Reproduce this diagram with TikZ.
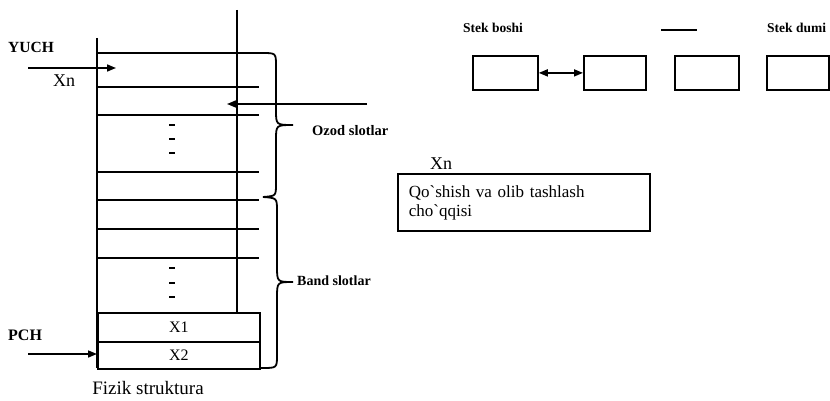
\documentclass[tikz,border=0pt]{standalone}
\usepackage{fontspec}
\setmainfont{Liberation Serif}[Ligatures=TeXOff]
\usetikzlibrary{arrows.meta}
\tikzset{
  ln/.style={line width=1.8pt},
  arr/.style={line width=1.6pt,-{Triangle[length=9pt,width=7pt]}},
  darr/.style={line width=1.6pt,{Triangle[length=9pt,width=7pt]}-{Triangle[length=9pt,width=7pt]}},
  sbox/.style={draw,line width=1.8pt,minimum width=65pt,minimum height=34pt,inner sep=0pt},
  lbl/.style={inner sep=0pt},
}
\begin{document}
\begin{tikzpicture}[x=1pt,y=-1pt]
\useasboundingbox (0,0) rectangle (830,401);
% vertical lines
\coordinate (L1) at (97,38); \coordinate (L2) at (97,368);
\coordinate (R1) at (237,10); \coordinate (R2) at (237,312);
\draw[ln] (L1) -- (L2);
\draw[ln] (R1) -- (R2);
% horizontal slot lines
\foreach \yy in {87,115,172,200,229,258} {\draw[ln] (97,\yy) -- (259,\yy);}
% X1, X2 boxes
\node[draw,line width=1.8pt,minimum width=162pt,minimum height=29pt,anchor=north west,inner sep=0pt,font=\fontsize{16}{16}\selectfont] (x1) at (97,312) {X1};
\node[draw,line width=1.8pt,minimum width=162pt,minimum height=27pt,anchor=north west,inner sep=0pt,font=\fontsize{16}{16}\selectfont] (x2) at (97,341) {X2};
% braces
\draw[ln] (97,53) -- (262,53) .. controls (276,53) .. (276,66) -- (276,110)
  .. controls (276,125) .. (293,125) .. controls (276,125) .. (276,140) -- (276,184)
  .. controls (276,196) .. (263,197);
\draw[ln] (263,197) .. controls (277,198) .. (277,211) -- (277,266)
  .. controls (277,282) .. (293,282) .. controls (277,282) .. (277,298) -- (277,355)
  .. controls (277,368) .. (262,368) -- (259,368);
% dots
\foreach \yy in {125,139,153,268,283,297} {\draw[line width=2.6pt] (169,\yy) -- (175,\yy);}
% labels left
\node[lbl,font=\bfseries\fontsize{15.5}{15.5}\selectfont,anchor=west] (yuch) at (8,47) {YUCH};
\node[lbl,font=\fontsize{18}{18}\selectfont,anchor=west] (xnl) at (53,81) {Xn};
\node[lbl,font=\bfseries\fontsize{16}{16}\selectfont,anchor=west] (pch) at (8,335) {PCH};
\node[lbl,font=\fontsize{19}{19}\selectfont] (fiz) at (148,388) {Fizik struktura};
\coordinate (ya) at (28,68); \coordinate (yb) at (116,68);
\draw[arr] (ya) -- (yb);
\coordinate (pa) at (28,354);
\draw[arr] (pa) -- (97,354);
\coordinate (ra) at (367,104); \coordinate (rb) at (227,104);
\draw[arr] (ra) -- (rb);
\node[lbl,font=\bfseries\fontsize{14.5}{14.5}\selectfont,anchor=west] (ozod) at (312,131) {Ozod slotlar};
\node[lbl,font=\bfseries\fontsize{14}{14}\selectfont,anchor=west] (band) at (297,281) {Band slotlar};
% right top
\node[lbl,font=\bfseries\fontsize{13.5}{13.5}\selectfont,anchor=west] (sb) at (463,28) {Stek boshi};
\node[lbl,font=\bfseries\fontsize{13.5}{13.5}\selectfont,anchor=west] (sd) at (767,28) {Stek dumi};
\coordinate (d1) at (661,30); \coordinate (d2) at (697,30);
\draw[ln] (d1) -- (d2);
\node[sbox,anchor=north west] (b1) at (472,55) {};
\node[sbox,anchor=north west,minimum width=62pt] (b2) at (583,55) {};
\node[sbox,anchor=north west,minimum width=64pt] (b3) at (674,55) {};
\node[sbox,anchor=north west,minimum width=62pt] (b4) at (766,55) {};
\draw[darr] (b1.east) -- (b2.west);
% Xn box
\node[draw,line width=1.8pt,anchor=north west,minimum width=252pt,minimum height=57pt,
  text width=230pt,inner xsep=11pt,inner ysep=0pt,align=left,font=\fontsize{17}{19}\selectfont] (qo) at (397,173)
  {Qo`shish va olib tashlash\\cho`qqisi};
\node[lbl,font=\fontsize{18}{18}\selectfont,anchor=west] (xnr) at (430,164) {Xn};
\end{tikzpicture}
\end{document}
